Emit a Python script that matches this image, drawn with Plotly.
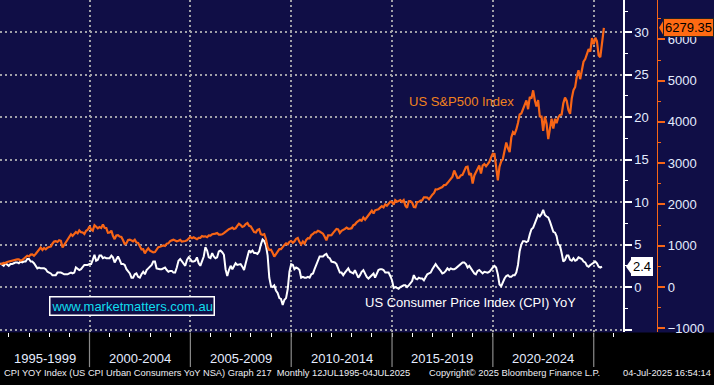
import pandas as pd
import plotly.graph_objects as go

# S&P 500 monthly closes, Jul-1995 .. Jun-2025, then last value 04-Jul-2025
spx_values = [
    562, 562, 584, 582, 605, 616,
    636, 640, 646, 654, 669, 671, 640, 652, 687, 705, 757, 741,
    786, 791, 757, 801, 848, 885, 954, 899, 947, 915, 955, 970,
    980, 1049, 1102, 1112, 1091, 1134, 1121, 957, 1017, 1099, 1164, 1229,
    1280, 1238, 1286, 1335, 1302, 1373, 1329, 1320, 1283, 1363, 1389, 1469,
    1394, 1366, 1499, 1452, 1421, 1455, 1431, 1518, 1437, 1429, 1315, 1320,
    1366, 1240, 1160, 1249, 1256, 1224, 1211, 1134, 1041, 1060, 1139, 1148,
    1130, 1107, 1147, 1077, 1067, 990, 912, 916, 815, 886, 936, 880,
    856, 841, 848, 917, 964, 975, 990, 1008, 996, 1051, 1058, 1112,
    1131, 1145, 1126, 1107, 1121, 1141, 1102, 1104, 1115, 1130, 1174, 1212,
    1181, 1204, 1181, 1157, 1192, 1191, 1234, 1220, 1229, 1207, 1249, 1248,
    1280, 1281, 1295, 1311, 1270, 1270, 1277, 1304, 1336, 1378, 1401, 1418,
    1438, 1407, 1421, 1482, 1531, 1503, 1455, 1474, 1527, 1549, 1481, 1468,
    1379, 1331, 1323, 1386, 1400, 1280, 1267, 1283, 1165, 969, 896, 903,
    826, 735, 798, 873, 919, 919, 987, 1021, 1057, 1036, 1096, 1115,
    1074, 1104, 1169, 1187, 1089, 1031, 1102, 1049, 1141, 1183, 1181, 1258,
    1286, 1327, 1326, 1364, 1345, 1321, 1292, 1219, 1131, 1253, 1247, 1258,
    1312, 1366, 1408, 1398, 1310, 1362, 1379, 1407, 1441, 1412, 1416, 1426,
    1498, 1515, 1569, 1598, 1631, 1606, 1686, 1633, 1682, 1757, 1806, 1848,
    1783, 1859, 1872, 1884, 1924, 1960, 1931, 2003, 1972, 2018, 2068, 2059,
    1995, 2105, 2068, 2086, 2107, 2063, 2104, 1972, 1920, 2079, 2080, 2044,
    1940, 1932, 2060, 2065, 2097, 2099, 2174, 2171, 2168, 2126, 2199, 2239,
    2279, 2364, 2363, 2384, 2412, 2423, 2470, 2472, 2519, 2575, 2648, 2674,
    2824, 2714, 2641, 2648, 2705, 2718, 2816, 2902, 2914, 2712, 2760, 2507,
    2704, 2784, 2834, 2946, 2752, 2942, 2980, 2926, 2977, 3038, 3141, 3231,
    3226, 2954, 2585, 2912, 3044, 3100, 3271, 3500, 3363, 3270, 3622, 3756,
    3714, 3811, 3973, 4181, 4204, 4298, 4395, 4523, 4308, 4605, 4567, 4766,
    4516, 4374, 4530, 4132, 4132, 3785, 4130, 3955, 3586, 3872, 4080, 3840,
    4077, 3970, 4109, 4169, 4180, 4450, 4589, 4508, 4288, 4194, 4568, 4770,
    4846, 5096, 5254, 5036, 5278, 5460, 5522, 5648, 5762, 5705, 6032, 5882,
    6041, 5955, 5612, 5569, 5912, 6205, 6279.35,
]

# US CPI YoY %, Jul-1995 .. May-2025
cpi_values = [
    2.8, 2.6, 2.5, 2.8, 2.6, 2.5,
    2.7, 2.7, 2.8, 2.9, 2.9, 2.8, 3.0, 2.9, 3.0, 3.0, 3.3, 3.3,
    3.0, 3.0, 2.8, 2.5, 2.2, 2.3, 2.2, 2.2, 2.2, 2.1, 1.8, 1.7,
    1.6, 1.4, 1.4, 1.4, 1.7, 1.7, 1.7, 1.6, 1.5, 1.5, 1.5, 1.6,
    1.7, 1.6, 1.7, 2.3, 2.1, 2.0, 2.1, 2.3, 2.6, 2.6, 2.6, 2.7,
    2.7, 3.2, 3.8, 3.1, 3.2, 3.7, 3.7, 3.4, 3.5, 3.4, 3.4, 3.4,
    3.7, 3.5, 2.9, 3.3, 3.6, 3.2, 2.7, 2.7, 2.6, 2.1, 1.9, 1.6,
    1.1, 1.1, 1.5, 1.6, 1.2, 1.1, 1.5, 1.8, 1.5, 2.0, 2.2, 2.4,
    2.6, 3.0, 3.0, 2.2, 2.1, 2.1, 2.1, 2.2, 2.3, 2.0, 1.8, 1.9,
    1.9, 1.7, 1.7, 2.3, 3.1, 3.3, 3.0, 2.7, 2.5, 3.2, 3.5, 3.3,
    3.0, 3.0, 3.1, 3.5, 2.8, 2.5, 3.2, 3.6, 4.7, 4.3, 3.5, 3.4,
    4.0, 3.6, 3.4, 3.5, 4.2, 4.3, 4.1, 3.8, 2.1, 1.3, 2.0, 2.5,
    2.1, 2.4, 2.8, 2.6, 2.7, 2.7, 2.4, 2.0, 2.8, 3.5, 4.3, 4.1,
    4.3, 4.0, 4.0, 3.9, 4.2, 5.0, 5.6, 5.4, 4.9, 3.7, 1.1, 0.1,
    0.0, 0.2, -0.4, -0.7, -1.3, -1.4, -2.1, -1.5, -1.3, -0.2, 1.8, 2.7,
    2.6, 2.1, 2.3, 2.2, 2.0, 1.1, 1.2, 1.1, 1.1, 1.2, 1.1, 1.5,
    1.6, 2.1, 2.7, 3.2, 3.6, 3.6, 3.6, 3.8, 3.9, 3.5, 3.4, 3.0,
    2.9, 2.9, 2.7, 2.3, 1.7, 1.7, 1.4, 1.7, 2.0, 2.2, 1.8, 1.7,
    1.6, 2.0, 1.5, 1.1, 1.4, 1.8, 2.0, 1.5, 1.2, 1.0, 1.2, 1.5,
    1.6, 1.1, 1.5, 2.0, 2.1, 2.1, 2.0, 1.7, 1.7, 1.7, 1.3, 0.8,
    -0.1, 0.0, -0.1, -0.2, 0.0, 0.1, 0.2, 0.2, 0.0, 0.2, 0.5, 0.7,
    1.4, 1.0, 0.9, 1.1, 1.0, 1.0, 0.8, 1.1, 1.5, 1.6, 1.7, 2.1,
    2.5, 2.7, 2.4, 2.2, 1.9, 1.6, 1.7, 1.9, 2.2, 2.0, 2.2, 2.1,
    2.1, 2.2, 2.4, 2.5, 2.8, 2.9, 2.9, 2.7, 2.3, 2.5, 2.2, 1.9,
    1.6, 1.5, 1.9, 2.0, 1.8, 1.6, 1.8, 1.7, 1.7, 1.8, 2.1, 2.3,
    2.5, 2.3, 1.5, 0.3, 0.1, 0.6, 1.0, 1.3, 1.4, 1.2, 1.2, 1.4,
    1.4, 1.7, 2.6, 4.2, 5.0, 5.4, 5.4, 5.3, 5.4, 6.2, 6.8, 7.0,
    7.5, 7.9, 8.5, 8.3, 8.6, 9.1, 8.5, 8.3, 8.2, 7.7, 7.1, 6.5,
    6.4, 6.0, 5.0, 4.9, 4.0, 3.0, 3.2, 3.7, 3.7, 3.2, 3.1, 3.4,
    3.1, 3.2, 3.5, 3.4, 3.3, 3.0, 2.9, 2.5, 2.4, 2.6, 2.7, 2.9,
    3.0, 2.8, 2.4, 2.3, 2.4,
]

period_labels = ["1995-1999", "2000-2004", "2005-2009", "2010-2014", "2015-2019", "2020-2024"]
period_years = [1995, 2000, 2005, 2010, 2015, 2020]
cpi_ticks = [-5, 0, 5, 10, 15, 20, 25, 30]
spx_ticks = [-1000, 0, 1000, 2000, 3000, 4000, 5000, 6000]

spx_dates = list(pd.date_range("1995-07-31", periods=len(spx_values) - 1, freq="ME")) + [pd.Timestamp("2025-07-04")]
cpi_dates = list(pd.date_range("1995-07-31", periods=len(cpi_values), freq="ME"))

X0, X1 = pd.Timestamp("1995-07-25"), pd.Timestamp("2026-06-15")
NAVY = "#100E46"
ORANGE = "#F76516"
TXT = "#E4ECFF"
W, H = 714, 385
XD = 623 / W
YB = (H - 335) / H
FONT = "Liberation Sans, Arial, sans-serif"

fig = go.Figure()
fig.add_trace(go.Scatter(x=cpi_dates, y=cpi_values, mode="lines", hoverinfo="skip",
                         line=dict(color="white", width=2), yaxis="y", showlegend=False))
fig.add_trace(go.Scatter(x=spx_dates, y=spx_values, mode="lines", hoverinfo="skip",
                         line=dict(color=ORANGE, width=2.2), yaxis="y2", showlegend=False))

fig.update_layout(
    width=W, height=H,
    margin=dict(l=0, r=0, t=0, b=0),
    paper_bgcolor="black", plot_bgcolor=NAVY,
    font=dict(family=FONT, size=13, color=TXT),
    xaxis=dict(domain=[0, XD], range=[X0, X1], type="date",
               tickvals=[pd.Timestamp(f"{y}-01-01") for y in range(2000, 2030, 5)],
               showticklabels=False, ticks="outside", ticklen=4, tickcolor="white", tickwidth=1,
               minor=dict(tickvals=[pd.Timestamp(f"{y}-01-01") for y in range(1996, 2027)],
                          ticks="outside", ticklen=4, tickcolor="white", tickwidth=1),
               showgrid=True, gridcolor="#A0A0A8", gridwidth=2, griddash="2px,3px",
               zeroline=False, showline=False),
    yaxis=dict(domain=[YB, 1], range=[-5.34, 33.8], side="right", anchor="x",
               tickvals=cpi_ticks, ticktext=["" if v == -5 else str(v) for v in cpi_ticks],
               ticks="outside", ticklen=7, tickwidth=2, tickcolor="white",
               minor=dict(dtick=2.5, ticks="outside", ticklen=3, tickcolor="white", tickwidth=1),
               showline=True, linecolor="white", linewidth=1.5,
               showgrid=True, gridcolor="#A0A0A8", gridwidth=2, griddash="2px,3px",
               zeroline=False, tickfont=dict(size=13, color=TXT)),
    yaxis2=dict(domain=[YB, 1], range=[-1099, 6954], overlaying="y", side="right",
                anchor="free", position=657 / W,
                tickvals=spx_ticks, ticks="outside", ticklen=7, tickwidth=2, tickcolor=ORANGE,
                minor=dict(dtick=500, ticks="outside", ticklen=3, tickcolor=ORANGE, tickwidth=1),
                showline=True, linecolor=ORANGE, linewidth=1.2,
                showgrid=False, zeroline=False, tickfont=dict(size=13, color=TXT)),
)

shapes = []
# navy panel behind right axes
shapes.append(dict(type="rect", xref="paper", yref="paper", x0=XD, x1=1, y0=YB, y1=1,
                   fillcolor=NAVY, line=dict(width=0), layer="below"))
# period dividers in bottom band
for y in range(2000, 2030, 5):
    shapes.append(dict(type="line", xref="x", yref="paper",
                       x0=pd.Timestamp(f"{y}-01-01"), x1=pd.Timestamp(f"{y}-01-01"),
                       y0=(H - 370) / H, y1=YB, line=dict(color="#8A8A8A", width=1.2)))

annotations = []
for lab, y0 in zip(period_labels, period_years):
    a = max(pd.Timestamp(f"{y0}-01-01"), X0)
    b = pd.Timestamp(f"{y0 + 5}-01-01")
    annotations.append(dict(x=a + (b - a) / 2, xref="x", y=(H - 361) / H, yref="paper",
                            text=lab, showarrow=False, font=dict(size=13, color=TXT),
                            xanchor="center", yanchor="middle"))

foot = dict(size=9.3, color="#EEEEF4", family=FONT)
fy = (H - 376) / H
annotations += [
    dict(x=2 / W, y=fy, xref="paper", yref="paper", xanchor="left", yanchor="middle", showarrow=False,
         text="CPI YOY Index (US CPI Urban Consumers YoY NSA) Graph 217  Monthly 12JUL1995-04JUL2025", font=foot),
    dict(x=427 / W, y=fy, xref="paper", yref="paper", xanchor="left", yanchor="middle", showarrow=False,
         text="Copyright© 2025 Bloomberg Finance L.P.", font=foot),
    dict(x=713 / W, y=fy, xref="paper", yref="paper", xanchor="right", yanchor="middle", showarrow=False,
         text="04-Jul-2025 16:54:14", font=foot),
    dict(x=407 / W, y=(H - 102) / H, xref="paper", yref="paper", xanchor="left", yanchor="middle",
         showarrow=False, text="US S&P500 Index", font=dict(size=13, color="#F0821E")),
    dict(x=363 / W, y=(H - 305) / H, xref="paper", yref="paper", xanchor="left", yanchor="middle",
         showarrow=False, text="US Consumer Price Index (CPI) YoY", font=dict(size=13, color="white")),
    dict(x=49 / W, y=(H - 308) / H, xref="paper", yref="paper", xanchor="left", yanchor="middle",
         showarrow=False, text="www.marketmatters.com.au", font=dict(size=13, color="#10DDEE"),
         bordercolor="white", borderwidth=1.5, borderpad=1, bgcolor=NAVY),
]

# last value tags
spx_last = spx_values[-1]
cpi_last = cpi_values[-1]
annotations.append(dict(x=663 / W, xref="paper", y=spx_last, yref="y2", xanchor="left", yanchor="middle",
                        showarrow=False, text=f"{spx_last:.2f}", font=dict(size=13, color="black"),
                        bgcolor="#FF6A13", bordercolor="#222", borderwidth=1, borderpad=1))
annotations.append(dict(x=631 / W, xref="paper", y=cpi_last, yref="y", xanchor="left", yanchor="middle",
                        showarrow=False, text=f"{cpi_last:.1f}", font=dict(size=13, color="black"),
                        bgcolor="white", borderwidth=0, borderpad=2))
h2 = 8.5 / 41.6 * 1000
shapes.append(dict(type="path", xref="paper", yref="y2",
                   path=f"M {659/W},{spx_last} L {664/W},{spx_last+h2} L {664/W},{spx_last-h2} Z",
                   fillcolor="#FF6A13", line=dict(width=0)))
h1 = 8.5 / 8.56
shapes.append(dict(type="path", xref="paper", yref="y",
                   path=f"M {626/W},{cpi_last} L {632/W},{cpi_last+h1} L {632/W},{cpi_last-h1} Z",
                   fillcolor="white", line=dict(width=0)))

fig.update_layout(shapes=shapes, annotations=annotations, hovermode=False)
fig.write_html("out.html", config={"displayModeBar": False},
               post_script="document.body.style.margin='0';document.body.style.overflow='hidden';")
